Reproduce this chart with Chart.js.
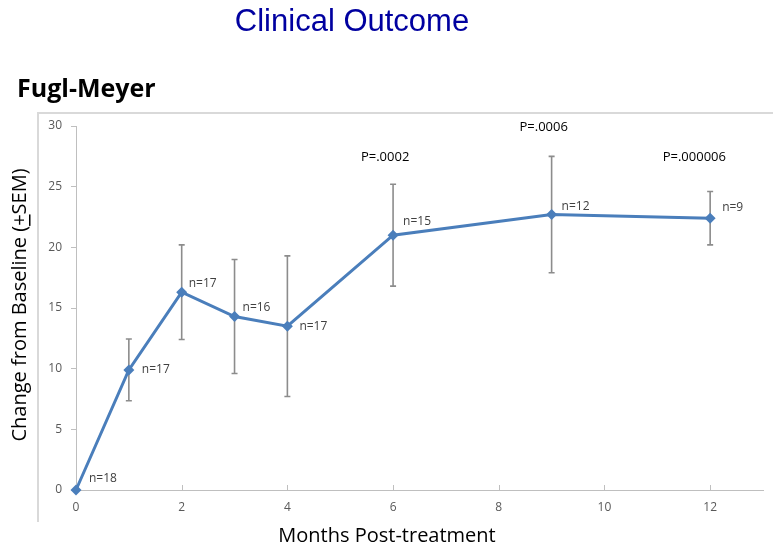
<!DOCTYPE html>
<html>
<head>
<meta charset="utf-8">
<title>Clinical Outcome - Fugl-Meyer</title>
<script src="https://cdn.jsdelivr.net/npm/chart.js@4.4.1/dist/chart.umd.min.js"></script>
<style>
    html, body { margin: 0; padding: 0; background: #ffffff; }
    #wrap { position: relative; width: 773px; height: 548px; }
</style>
</head>
<body>
<div id="wrap"><canvas id="fm-chart" width="773" height="548"></canvas></div>
<script>
/* ---- data ---- */
var months = [0, 1, 2, 3, 4, 6, 9, 12];
var meanChange = [0, 9.9, 16.3, 14.3, 13.5, 21.0, 22.7, 22.4];
var semValues = [0, 2.55, 3.9, 4.7, 5.8, 4.2, 4.8, 2.2];
var sampleSizes = [18, 17, 17, 16, 17, 15, 12, 9];
var pLabels = ['P=.0002', 'P=.0006', 'P=.000006'];
var pMonths = [5.85, 8.85, 11.7];
var pLevels = [27.4, 29.9, 27.4];
var yTicks = [0, 5, 10, 15, 20, 25, 30];
var xTicks = [0, 2, 4, 6, 8, 10, 12];

(function() {
    'use strict';

    var LINE = '#4a7ebb';
    var AXIS = '#bfbfbf';
    var TICK_TXT = '#595959';
    var SANS = "'Open Sans', 'Noto Sans', sans-serif";

    /* label nudges in px, one per point (n= text) */
    var nOffsets = [[13, -11], [13, 0], [7, -9], [8, -9], [12, 0], [10, -14], [10, -8], [12, -11]];

    var points = months.map(function(m, i) { return { x: m, y: meanChange[i] }; });

    /* ---- page texts, frame, axis titles ---- */
    var pagePlugin = {
        id: 'pageText',
        beforeDraw: function(chart) {
            var ctx = chart.ctx;
            ctx.save();
            /* chart frame (left + top) */
            ctx.strokeStyle = '#d9d9d9';
            ctx.lineWidth = 2;
            ctx.beginPath();
            ctx.moveTo(38, 522);
            ctx.lineTo(38, 113);
            ctx.lineTo(773, 113);
            ctx.stroke();

            ctx.fillStyle = '#0000a0';
            ctx.font = "31px 'Liberation Sans', Arial, sans-serif";
            ctx.textAlign = 'center';
            ctx.textBaseline = 'middle';
            ctx.fillText('Clinical Outcome', 352, 22);

            ctx.fillStyle = '#000000';
            ctx.font = "bold 25px " + SANS;
            ctx.textAlign = 'left';
            ctx.fillText('Fugl-Meyer', 17, 90);

            /* x title */
            ctx.font = "20px " + SANS;
            ctx.textAlign = 'center';
            ctx.fillText('Months Post-treatment', 387, 536);

            /* y title with underlined plus */
            ctx.translate(20, 305);
            ctx.rotate(-Math.PI / 2);
            ctx.font = "20px " + SANS;
            var pre = 'Change from Baseline (';
            var plus = '+';
            var post = 'SEM)';
            var wPre = ctx.measureText(pre).width;
            var wPlus = ctx.measureText(plus).width;
            var total = wPre + wPlus + ctx.measureText(post).width;
            var x0 = -total / 2;
            ctx.textAlign = 'left';
            ctx.fillText(pre, x0, 0);
            ctx.fillText(plus, x0 + wPre, 0);
            ctx.fillText(post, x0 + wPre + wPlus, 0);
            ctx.fillRect(x0 + wPre, 9, wPlus, 1.5);
            ctx.restore();
        }
    };

    /* ---- error bars behind the line ---- */
    var errorPlugin = {
        id: 'errorBars',
        beforeDatasetsDraw: function(chart) {
            var ctx = chart.ctx;
            var xs = chart.scales.x, ys = chart.scales.y;
            ctx.save();
            ctx.strokeStyle = '#8c8c8c';
            ctx.lineWidth = 1.6;
            months.forEach(function(m, i) {
                if (!semValues[i]) return;
                var px = xs.getPixelForValue(m);
                var top = ys.getPixelForValue(meanChange[i] + semValues[i]);
                var bot = ys.getPixelForValue(meanChange[i] - semValues[i]);
                ctx.beginPath();
                ctx.moveTo(px, top); ctx.lineTo(px, bot);
                ctx.moveTo(px - 3, top); ctx.lineTo(px + 3, top);
                ctx.moveTo(px - 3, bot); ctx.lineTo(px + 3, bot);
                ctx.stroke();
            });
            /* inside tick marks on x axis */
            ctx.strokeStyle = AXIS;
            ctx.lineWidth = 1;
            xTicks.forEach(function(t) {
                if (t === 0) return;
                var px = Math.round(xs.getPixelForValue(t)) + 0.5;
                ctx.beginPath();
                ctx.moveTo(px, ys.bottom);
                ctx.lineTo(px, ys.bottom - 5);
                ctx.stroke();
            });
            ctx.restore();
        },
        afterDatasetsDraw: function(chart) {
            var ctx = chart.ctx;
            var xs = chart.scales.x, ys = chart.scales.y;
            ctx.save();
            ctx.font = "12px " + SANS;
            ctx.fillStyle = '#404040';
            ctx.textBaseline = 'middle';
            ctx.textAlign = 'left';
            months.forEach(function(m, i) {
                var px = xs.getPixelForValue(m);
                var py = ys.getPixelForValue(meanChange[i]);
                ctx.fillText('n=' + sampleSizes[i], px + nOffsets[i][0], py + nOffsets[i][1]);
            });
            ctx.fillStyle = '#000000';
            ctx.font = "13px " + SANS;
            ctx.textAlign = 'center';
            pLabels.forEach(function(lbl, i) {
                ctx.fillText(lbl, xs.getPixelForValue(pMonths[i]), ys.getPixelForValue(pLevels[i]));
            });
            ctx.restore();
        }
    };

    var canvas = document.getElementById('fm-chart');
    new Chart(canvas, {
        type: 'line',
        data: {
            datasets: [{
                label: 'Fugl-Meyer',
                data: points,
                borderColor: LINE,
                backgroundColor: LINE,
                borderWidth: 3,
                pointStyle: 'rectRot',
                pointRadius: 5.5,
                pointBackgroundColor: LINE,
                pointBorderColor: LINE,
                pointBorderWidth: 0,
                tension: 0,
                fill: false,
                clip: false
            }]
        },
        options: {
            responsive: false,
            animation: false,
            layout: { padding: { left: 0, right: 10, top: 126, bottom: 0 } },
            plugins: {
                legend: { display: false },
                tooltip: { enabled: false },
                title: { display: false }
            },
            scales: {
                x: {
                    type: 'linear',
                    min: 0,
                    max: 13,
                    afterFit: function(s) { s.height = 58; },
                    afterBuildTicks: function(s) {
                        s.ticks = xTicks.map(function(v) { return { value: v }; });
                    },
                    grid: { display: false, drawTicks: false },
                    border: { display: true, color: AXIS, width: 1 },
                    ticks: {
                        padding: 10,
                        color: TICK_TXT,
                        font: { size: 12, family: SANS },
                        maxRotation: 0,
                        autoSkip: false
                    }
                },
                y: {
                    min: 0,
                    max: 30,
                    afterFit: function(s) { s.width = 76; },
                    afterBuildTicks: function(s) {
                        s.ticks = yTicks.map(function(v) { return { value: v }; });
                    },
                    grid: { display: true, drawOnChartArea: false, drawTicks: true, tickLength: 5, color: AXIS },
                    border: { display: true, color: AXIS, width: 1 },
                    ticks: {
                        padding: 9,
                        color: TICK_TXT,
                        font: { size: 12, family: SANS }
                    }
                }
            }
        },
        plugins: [pagePlugin, errorPlugin]
    });
})();
</script>
</body>
</html>
